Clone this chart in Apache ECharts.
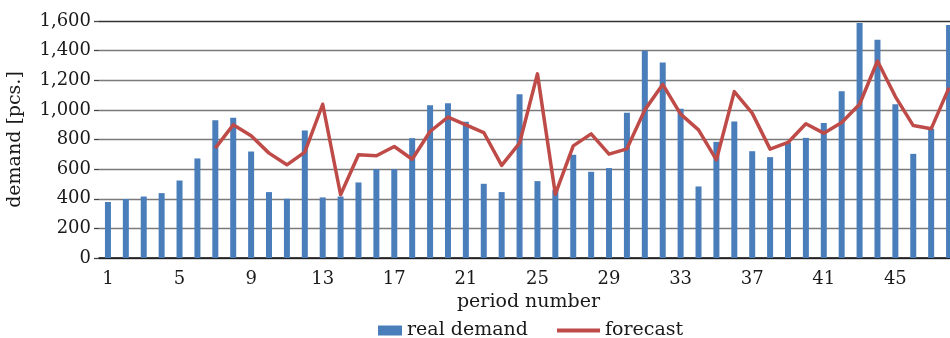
<!DOCTYPE html>
<html>
<head>
<meta charset="utf-8">
<script src="https://cdn.jsdelivr.net/npm/echarts@6/dist/echarts.min.js"></script>
<style>
  html, body { margin: 0; padding: 0; background: #fff; overflow: hidden; width: 950px; height: 338px; }
  #chart { width: 959px; height: 338px; }
</style>
</head>
<body>
<div id="chart"></div>
<script>
// Periods 1..48
const periods = ['1','2','3','4','5','6','7','8','9','10','11','12','13','14','15','16','17','18','19','20','21','22','23','24','25','26','27','28','29','30','31','32','33','34','35','36','37','38','39','40','41','42','43','44','45','46','47','48'];

// Observed demand per period [pcs.]
const realDemand = [378, 398, 415, 438, 523, 672, 930, 946, 719, 445, 400, 861, 409, 415, 510, 600,
                    600, 809, 1032, 1045, 919, 501, 445, 1106, 519, 460, 697, 582, 607, 980, 1400, 1319,
                    1007, 483, 784, 921, 721, 681, 780, 811, 912, 1126, 1587, 1474, 1038, 703, 872, 1573];

// Forecast, available from period 7 onwards
const forecast = [null, null, null, null, null, null, 742, 899, 825, 708, 629, 715, 1038, 427, 697, 690,
                  753, 667, 854, 951, 899, 847, 625, 775, 1243, 431, 757, 838, 701, 737, 1000, 1172,
                  971, 865, 663, 1123, 978, 735, 780, 906, 843, 915, 1038, 1330, 1090, 894, 872, 1150];

const yTicks = [0, 200, 400, 600, 800, 1000, 1200, 1400, 1600];

const FONT = 'DejaVu Serif';
const TXT = '#1a1a1a';

const chart = echarts.init(document.getElementById('chart'), null, { renderer: 'canvas' });

chart.setOption({
  animation: false,
  textStyle: { fontFamily: FONT, color: TXT },
  grid: { left: 99, right: 1, top: 21, bottom: 80, containLabel: false, outerBoundsMode: 'none' },
  legend: [
    {
      data: ['real demand'],
      left: 378, top: 321, padding: 0,
      itemWidth: 24, itemHeight: 10,
      icon: 'rect',
      textStyle: { fontFamily: FONT, fontSize: 19, color: TXT }
    },
    {
      data: ['forecast'],
      left: 557, top: 321, padding: 0,
      itemWidth: 43, itemHeight: 4,
      icon: 'rect',
      textStyle: { fontFamily: FONT, fontSize: 19, color: TXT }
    }
  ],
  xAxis: {
    type: 'category',
    data: periods,
    boundaryGap: true,
    name: 'period number',
    nameLocation: 'middle',
    nameGap: 33,
    nameTextStyle: { fontFamily: FONT, fontSize: 19, color: TXT },
    axisLine: { lineStyle: { color: '#111', width: 1.5 } },
    axisTick: { show: false },
    axisLabel: { interval: 3, margin: 12, fontFamily: FONT, fontSize: 18, color: TXT },
    splitLine: { show: false }
  },
  yAxis: {
    type: 'value',
    min: yTicks[0],
    max: yTicks[yTicks.length - 1],
    interval: 200,
    name: 'demand [pcs.]',
    nameLocation: 'middle',
    nameGap: 74,
    nameTextStyle: { fontFamily: FONT, fontSize: 19, color: TXT },
    axisLine: { show: true, lineStyle: { color: 'rgba(0,0,0,0)' } },
    axisTick: { show: true, length: 5, lineStyle: { color: '#444', width: 1.3 } },
    axisLabel: {
      margin: 8,
      fontFamily: FONT, fontSize: 18, color: TXT,
      formatter: v => v.toLocaleString('en-US')
    },
    splitLine: {
      lineStyle: {
        width: 1.4,
        color: ['#555', '#7a7a7a', '#7a7a7a', '#7a7a7a', '#7a7a7a', '#7a7a7a', '#7a7a7a', '#7a7a7a', '#333']
      }
    }
  },
  series: [
    {
      name: 'real demand',
      type: 'bar',
      data: realDemand,
      barWidth: 6,
      itemStyle: { color: '#4a7ebb' },
      z: 2
    },
    {
      name: 'forecast',
      type: 'line',
      data: forecast,
      showSymbol: false,
      symbol: 'none',
      lineStyle: { color: '#be4b48', width: 3.5, join: 'round' },
      itemStyle: { color: '#be4b48' },
      z: 3
    }
  ]
});
</script>
</body>
</html>
